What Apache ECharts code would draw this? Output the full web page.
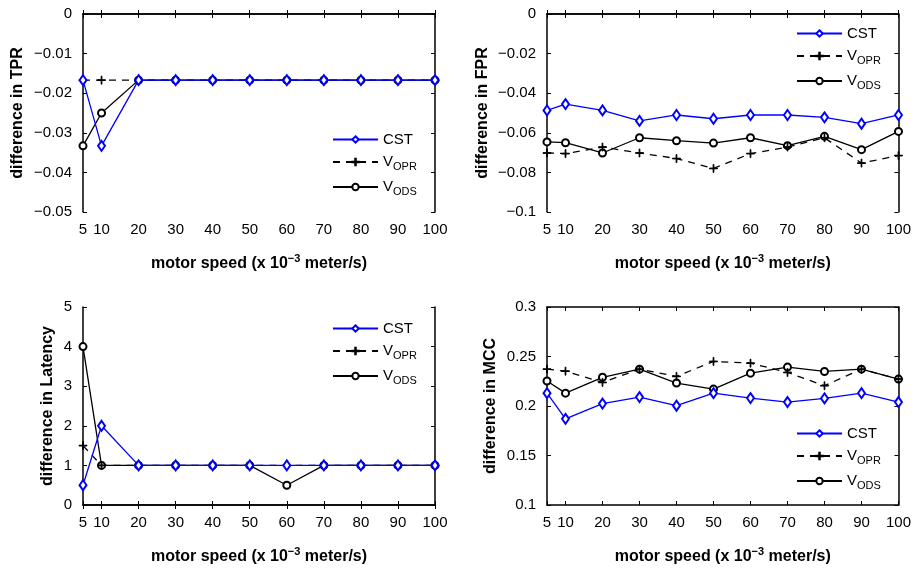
<!DOCTYPE html>
<html>
<head>
<meta charset="utf-8">
<style>
  html, body { margin: 0; padding: 0; background: #fff; }
  #chart { width: 914px; height: 569px; }
</style>
<script src="https://cdn.jsdelivr.net/npm/echarts@6/dist/echarts.min.js"></script>
</head>
<body>
<div id="chart"></div>
<script>
// motor speed (x 10^-3 m/s)
const speeds = [5, 10, 20, 30, 40, 50, 60, 70, 80, 90, 100];
const xTicks = [5, 10, 20, 30, 40, 50, 60, 70, 80, 90, 100];

// difference in TPR
const tprCST  = [-0.0167, -0.0333, -0.0167, -0.0167, -0.0167, -0.0167, -0.0167, -0.0167, -0.0167, -0.0167, -0.0167];
const tprVOPR = [-0.0167, -0.0167, -0.0167, -0.0167, -0.0167, -0.0167, -0.0167, -0.0167, -0.0167, -0.0167, -0.0167];
const tprVODS = [-0.0333, -0.025, -0.0167, -0.0167, -0.0167, -0.0167, -0.0167, -0.0167, -0.0167, -0.0167, -0.0167];

// difference in FPR
const fprCST  = [-0.0487, -0.0455, -0.0487, -0.054, -0.051, -0.0529, -0.051, -0.051, -0.0522, -0.0554, -0.051];
const fprVOPR = [-0.0702, -0.0705, -0.0672, -0.0702, -0.073, -0.078, -0.0705, -0.0672, -0.0625, -0.0753, -0.0715];
const fprVODS = [-0.0646, -0.065, -0.0702, -0.0625, -0.064, -0.0652, -0.0625, -0.0665, -0.0618, -0.0685, -0.0593];

// difference in Latency
const latCST  = [0.5, 2, 1, 1, 1, 1, 1, 1, 1, 1, 1];
const latVOPR = [1.5, 1, 1, 1, 1, 1, 1, 1, 1, 1, 1];
const latVODS = [4, 1, 1, 1, 1, 1, 0.5, 1, 1, 1, 1];

// difference in MCC
const mccCST  = [0.213, 0.187, 0.2024, 0.209, 0.2003, 0.213, 0.208, 0.204, 0.2077, 0.213, 0.204];
const mccVOPR = [0.2372, 0.2352, 0.2238, 0.2372, 0.2299, 0.245, 0.2433, 0.2339, 0.2205, 0.2372, 0.2272];
const mccVODS = [0.2252, 0.213, 0.229, 0.2372, 0.2232, 0.2171, 0.2332, 0.2393, 0.2349, 0.2372, 0.2272];

// y-axis titles and ranges
const yTitles = ['difference in TPR', 'difference in FPR', 'difference in Latency', 'difference in MCC'];
const yRanges = [[-0.05, 0, 0.01], [-0.1, 0, 0.02], [0, 5, 1], [0.1, 0.3, 0.05]];
const seriesNames = ['CST', 'VOPR', 'VODS'];

const panelValues = [
  [tprCST, tprVOPR, tprVODS],
  [fprCST, fprVOPR, fprVODS],
  [latCST, latVOPR, latVODS],
  [mccCST, mccVOPR, mccVODS]
];

// panel layout (pixels)
const layout = [
  { left: 83,  top: 14,  nameGap: 57, legLeft: 332, legTop: 132 },
  { left: 547, top: 14,  nameGap: 56, legLeft: 796, legTop: 26 },
  { left: 83,  top: 307, nameGap: 27, legLeft: 332, legTop: 321 },
  { left: 547, top: 307, nameGap: 48, legLeft: 796, legTop: 426 }
];
const gridW = 352, gridH = 198;

const FONT = '"Liberation Sans", Arial, Helvetica, sans-serif';
const PLUS = 'path://M4.55,0H5.45V4.55H10V5.45H5.45V10H4.55V5.45H0V4.55H4.55Z';

const styles = {
  CST:  { color: '#0000ff', type: 'solid', symbol: 'emptyDiamond', size: [7, 10] },
  VOPR: { color: '#000000', type: [7, 6],  symbol: PLUS,           size: 8 },
  VODS: { color: '#000000', type: 'solid', symbol: 'emptyCircle',  size: 7 }
};

function fmtY(v) {
  const a = parseFloat(Math.abs(v).toFixed(4)).toString();
  return (v < 0 ? '\u2212' : '') + a;
}

const grid = [], xAxis = [], yAxis = [], series = [], legend = [];

layout.forEach((L, p) => {
  grid.push({ left: L.left, top: L.top, width: gridW, height: gridH, containLabel: false });
  const axisLine = { show: true, lineStyle: { color: '#000', width: 1.5 } };
  const tick = { show: true, inside: true, length: 4, lineStyle: { color: '#000', width: 1 } };

  // bottom x axis
  xAxis.push({
    type: 'value', gridIndex: p, min: 5, max: 100, position: 'bottom',
    axisLine: axisLine, splitLine: { show: false },
    axisTick: Object.assign({ customValues: xTicks }, tick),
    axisLabel: { customValues: xTicks, margin: 10, color: '#000', fontFamily: FONT, fontSize: 15 },
    name: 'motor speed (x 10{sup|\u22123} meter/s)',
    nameLocation: 'middle', nameGap: 41,
    nameTextStyle: {
      color: '#000', fontFamily: FONT, fontSize: 16, fontWeight: 'bold',
      rich: { sup: { fontFamily: FONT, fontSize: 11, fontWeight: 'bold', color: '#000', padding: [0, 0, 10, 0] } }
    }
  });
  // top x axis (box edge)
  xAxis.push({
    type: 'value', gridIndex: p, min: 5, max: 100, position: 'top',
    axisLine: axisLine, splitLine: { show: false },
    axisTick: Object.assign({ customValues: xTicks }, tick),
    axisLabel: { show: false }
  });

  const r = yRanges[p];
  yAxis.push({
    type: 'value', gridIndex: p, min: r[0], max: r[1], interval: r[2], position: 'left',
    axisLine: axisLine, splitLine: { show: false }, axisTick: tick,
    axisLabel: { margin: 11, color: '#000', fontFamily: FONT, fontSize: 15, formatter: fmtY },
    name: yTitles[p], nameLocation: 'middle', nameGap: L.nameGap,
    nameTextStyle: { color: '#000', fontFamily: FONT, fontSize: 16, fontWeight: 'bold' }
  });
  yAxis.push({
    type: 'value', gridIndex: p, min: r[0], max: r[1], interval: r[2], position: 'right',
    axisLine: axisLine, splitLine: { show: false }, axisTick: tick,
    axisLabel: { show: false }
  });

  seriesNames.forEach((nm, k) => {
    const s = styles[nm];
    series.push({
      name: nm, type: 'line',
      xAxisIndex: 2 * p, yAxisIndex: 2 * p,
      data: speeds.map((x, i) => [x, panelValues[p][k][i]]),
      symbol: s.symbol, symbolSize: s.size, showAllSymbol: true,
      lineStyle: { color: s.color, width: 1.3, type: s.type },
      itemStyle: { color: s.color, borderColor: s.color, borderWidth: 1 },
      emphasis: { disabled: true },
      animation: false, z: 3 - k
    });
  });

  legend.push({
    orient: 'vertical', left: L.legLeft, top: L.legTop, padding: 0,
    itemWidth: 45, itemHeight: 8, itemGap: 7.5,
    data: seriesNames,
    selectedMode: false,
    formatter: function (n) {
      if (n === 'CST') return '{m|CST}';
      return '{m|V}{s|' + n.slice(1) + '}';
    },
    textStyle: {
      color: '#000', fontFamily: FONT, fontSize: 15,
      rich: {
        m: { fontFamily: FONT, fontSize: 15, color: '#000' },
        s: { fontFamily: FONT, fontSize: 11, color: '#000', padding: [9, 0, 0, 0] }
      }
    }
  });
});

const chart = echarts.init(document.getElementById('chart'), null, { renderer: 'canvas' });
chart.setOption({
  backgroundColor: '#fff',
  animation: false,
  grid: grid, xAxis: xAxis, yAxis: yAxis, series: series, legend: legend
});
</script>
</body>
</html>
